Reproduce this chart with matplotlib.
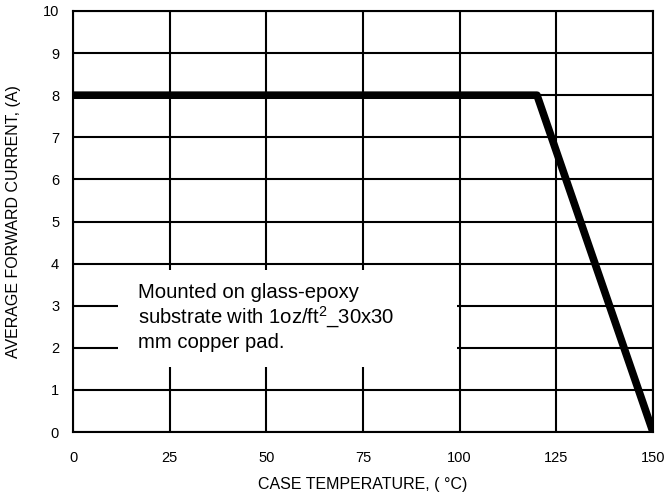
import matplotlib
matplotlib.use('Agg')
import matplotlib.pyplot as plt

plt.rcParams['font.family'] = ['Liberation Sans', 'DejaVu Sans']
plt.rcParams['mathtext.fontset'] = 'custom'
plt.rcParams['mathtext.rm'] = 'Liberation Sans'

# derating curve
temp = [0, 120, 150]
current = [8, 8, 0]

x_ticks = [0, 25, 50, 75, 100, 125, 150]
y_ticks = list(range(0, 11))

note_lines = ['Mounted on glass-epoxy',
              'substrate with 1oz/ft$^{2}$_30x30',
              'mm copper pad.']

fig = plt.figure(figsize=(6.68, 4.97), dpi=100)
ax = fig.add_axes([73 / 668, 65 / 497, 580 / 668, 421 / 497])

ax.set_xlim(0, 150)
ax.set_ylim(0, 10)
ax.set_xticks(x_ticks)
ax.set_yticks(y_ticks)
ax.tick_params(length=0, labelsize=10.5)
ax.tick_params(axis='x', pad=14)
ax.tick_params(axis='y', pad=10)
ax.grid(True, color='black', linewidth=1.5)
for sp in ax.spines.values():
    sp.set_linewidth(1.5)

ax.plot(temp, current, color='black', linewidth=5.5, solid_capstyle='butt',
        zorder=4)

# white box hiding the grid behind the note
ax.fill_between([11.6, 99.3], 1.54, 3.85, color='white', zorder=2.5,
                linewidth=0)
for i, line in enumerate(note_lines):
    ax.text(16.8, 3.18 - i * 0.595, line, fontsize=14.6, va='baseline',
            ha='left', zorder=3)

ax.set_xlabel('CASE TEMPERATURE, ( °C)', fontsize=11.5, labelpad=8)
ax.set_ylabel('AVERAGE FORWARD CURRENT, (A)', fontsize=11.5, labelpad=16)

fig.savefig('out.png', dpi=100)
